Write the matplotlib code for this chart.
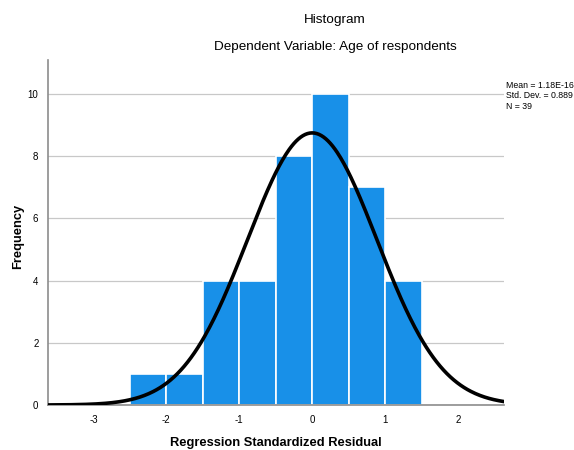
import numpy as np
import matplotlib.pyplot as plt

# Данные гистограммы
bin_edges = [-2.5, -2.0, -1.5, -1.0, -0.5, 0.0, 0.5, 1.0, 1.5]
counts = [1, 1, 4, 4, 8, 10, 7, 4]
n_total = 39
mean_val = 1.18e-16
std_val = 0.889
x_ticks = [-3, -2, -1, 0, 1, 2]
y_ticks = [0, 2, 4, 6, 8, 10]

plt.rcParams['font.family'] = ['Liberation Sans', 'DejaVu Sans']
plt.rcParams['axes.unicode_minus'] = False

fig = plt.figure(figsize=(5.74, 4.5), dpi=100)
ax = fig.add_axes([0.084, 0.1, 0.794, 0.767])

lefts = bin_edges[:-1]
widths = np.diff(bin_edges)
ax.bar(lefts, counts, width=widths, align='edge', color='#1890e8',
       edgecolor='white', linewidth=1.2, zorder=2)

# Нормальная кривая
bw = widths[0]
xs = np.linspace(-3.62, 2.63, 400)
ys = n_total * bw * np.exp(-0.5 * ((xs - mean_val) / std_val) ** 2) / (std_val * np.sqrt(2 * np.pi))
ax.plot(xs, ys, color='black', linewidth=2.6, zorder=3)

ax.set_xlim(-3.62, 2.63)
ax.set_ylim(0, 11.1)
ax.set_xticks(x_ticks)
ax.set_yticks(y_ticks)
ax.tick_params(length=0, labelsize=7, pad=7)
ax.grid(axis='y', color='#c8c8c8', linewidth=0.9, zorder=0)
ax.set_axisbelow(True)
for s in ['top', 'right']:
    ax.spines[s].set_visible(False)
for s in ['left', 'bottom']:
    ax.spines[s].set_color('#8c8c8c')
    ax.spines[s].set_linewidth(1.2)

# подписи осей
fig.text(276 / 574, 1 - 443 / 450, 'Regression Standardized Residual',
         fontsize=9.3, fontweight='bold', ha='center', va='center')
fig.text(18 / 574, 1 - 236 / 450, 'Frequency', fontsize=9.3, fontweight='bold',
         ha='center', va='center', rotation=90)

fig.text(335 / 574, 0.955, 'Histogram', fontsize=9.7, ha='center', va='center')
fig.text(335 / 574, 0.896, 'Dependent Variable: Age of respondents', fontsize=9.7,
         ha='center', va='center')

stats = f'Mean = 1.18E-16\nStd. Dev. = {std_val:.3f}\nN = {n_total}'
fig.text(0.882, 1 - 96 / 450, stats, fontsize=6.3, ha='left', va='center', linespacing=1.15)

fig.savefig('out.png', dpi=100)
